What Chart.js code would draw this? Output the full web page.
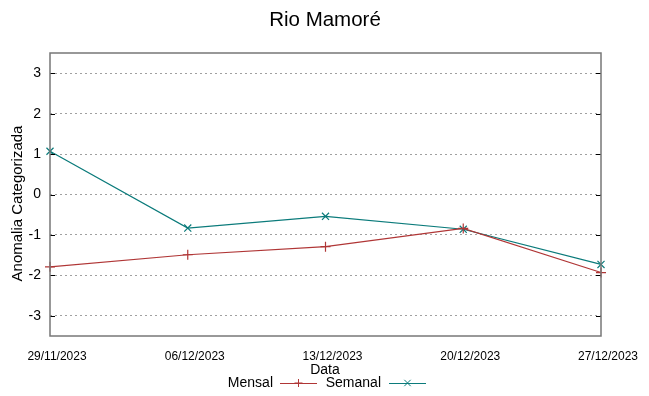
<!DOCTYPE html>
<html>
<head>
<meta charset="utf-8">
<script src="https://cdn.jsdelivr.net/npm/chart.js@4/dist/chart.umd.min.js"></script>
<style>
html,body{margin:0;padding:0;background:#fff;}
#wrap{width:649px;height:396px;position:relative;}
</style>
</head>
<body>
<div id="wrap"><canvas id="c" width="649" height="396"></canvas></div>
<script>
const categories = ["29/11/2023","06/12/2023","13/12/2023","20/12/2023","27/12/2023"];
const mensal = [-1.79, -1.49, -1.29, -0.84, -1.93];
const semanal = [1.07, -0.83, -0.54, -0.86, -1.73];
const yTicks = [-3, -2, -1, 0, 1, 2, 3];
const title = "Rio Mamoré";
const yTitle = "Anomalia Categorizada";
const xTitle = "Data";

const FONT = "'Liberation Sans', Arial, sans-serif";
const colMensal = '#b03636';
const colSemanal = '#0b7b7b';

const decor = {
  id: 'decor',
  afterDraw(chart) {
    const ctx = chart.ctx;
    const a = chart.chartArea;
    const ys = chart.scales.y;
    ctx.save();
    ctx.strokeStyle = '#000';
    ctx.lineWidth = 1;
    yTicks.forEach(v => {
      const y = Math.round(ys.getPixelForValue(v)) + 0.5;
      ctx.beginPath();
      ctx.moveTo(a.left, y); ctx.lineTo(a.left + 5, y);
      ctx.moveTo(a.right - 5, y); ctx.lineTo(a.right, y);
      ctx.stroke();
    });
    ctx.strokeStyle = '#777777';
    ctx.lineWidth = 1.5;
    ctx.strokeRect(a.left, a.top, a.right - a.left, a.bottom - a.top);
    ctx.fillStyle = '#000';
    ctx.font = '20.5px ' + FONT;
    ctx.textAlign = 'center';
    ctx.textBaseline = 'middle';
    ctx.fillText(title, 325, 20);
    ctx.font = '15px ' + FONT;
    ctx.save();
    ctx.translate(18, (a.top + a.bottom) / 2 + 9);
    ctx.rotate(-Math.PI / 2);
    ctx.fillText(yTitle, 0, 0);
    ctx.restore();
    ctx.font = '14px ' + FONT;
    ctx.fillText(xTitle, 325, 370);
    ctx.textAlign = 'right';
    ctx.fillText('Mensal', 273, 383);
    ctx.fillText('Semanal', 381, 383);
    const drawSample = (x0, x1, y, color, style) => {
      ctx.strokeStyle = color;
      ctx.lineWidth = 1;
      ctx.beginPath();
      ctx.moveTo(x0, y + 0.5); ctx.lineTo(x1, y + 0.5);
      ctx.stroke();
      const cx = (x0 + x1) / 2, r = 4;
      ctx.beginPath();
      if (style === 'cross') {
        ctx.moveTo(cx, y - r); ctx.lineTo(cx, y + r);
        ctx.moveTo(cx - r, y); ctx.lineTo(cx + r, y);
      } else {
        ctx.moveTo(cx - r * 0.8, y - r * 0.8); ctx.lineTo(cx + r * 0.8, y + r * 0.8);
        ctx.moveTo(cx - r * 0.8, y + r * 0.8); ctx.lineTo(cx + r * 0.8, y - r * 0.8);
      }
      ctx.stroke();
    };
    drawSample(280, 317, 383, colMensal, 'cross');
    drawSample(389, 426, 383, colSemanal, 'crossRot');
    ctx.restore();
  }
};

new Chart(document.getElementById('c'), {
  type: 'line',
  data: {
    labels: categories,
    datasets: [
      { label: 'Mensal', data: mensal, borderColor: colMensal, backgroundColor: colMensal,
        borderWidth: 1.2, pointStyle: 'cross', pointRadius: 5, pointBorderWidth: 1.2,
        pointHoverRadius: 5, tension: 0, fill: false },
      { label: 'Semanal', data: semanal, borderColor: colSemanal, backgroundColor: colSemanal,
        borderWidth: 1.2, pointStyle: 'crossRot', pointRadius: 5, pointBorderWidth: 1.2,
        pointHoverRadius: 5, tension: 0, fill: false }
    ]
  },
  options: {
    responsive: false,
    animation: false,
    devicePixelRatio: 1,
    layout: { padding: { left: 0, right: 48, top: 53, bottom: 0 } },
    plugins: { legend: { display: false }, title: { display: false }, tooltip: { enabled: false } },
    scales: {
      x: {
        type: 'category',
        offset: false,
        grid: { display: false, drawTicks: false },
        border: { display: false },
        ticks: { font: { family: FONT, size: 12 }, color: '#000', padding: 13, labelOffset: 7, maxRotation: 0, autoSkip: false },
        afterFit(s) { s.height = 60; }
      },
      y: {
        min: -3.5, max: 3.5,
        afterBuildTicks(s) { s.ticks = yTicks.map(v => ({ value: v })); },
        grid: { color: '#a0a0a0', lineWidth: 1, drawTicks: false },
        border: { display: false, dash: [2, 3] },
        ticks: { font: { family: FONT, size: 14 }, color: '#000', padding: 9, callback: v => String(v) },
        afterFit(s) { s.width = 50; }
      }
    }
  },
  plugins: [decor]
});
</script>
</body>
</html>
